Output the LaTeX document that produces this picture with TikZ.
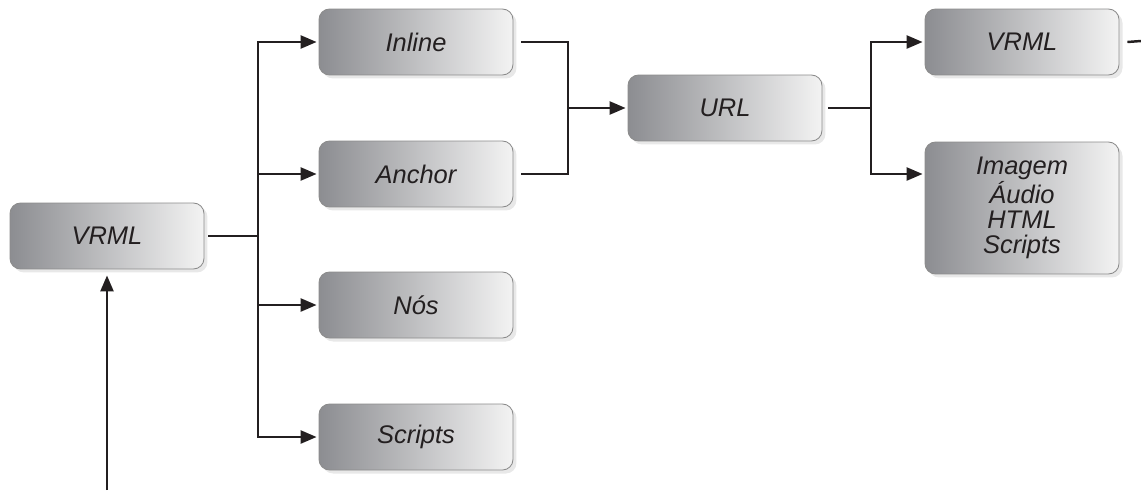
\documentclass[tikz,border=0pt]{standalone}
\usepackage{fontspec}
\setmainfont{Liberation Sans}
\usetikzlibrary{arrows.meta,shadows}
\definecolor{inkc}{RGB}{35,31,32}
\definecolor{shadeL}{RGB}{140,141,145}
\definecolor{shadeR}{RGB}{243,243,243}
\tikzset{
  box/.style={draw=black!45, line width=0.5pt, rounded corners=0.21cm,
    left color=shadeL, right color=shadeR,
    minimum width=3.88cm, minimum height=1.32cm, inner sep=0pt,
    font=\fontsize{14.5}{14.2}\selectfont\itshape, text=inkc, align=center,
    general shadow={fill=black!9, shadow xshift=0.07cm, shadow yshift=-0.07cm}},
  link/.style={draw=inkc, line width=1.4pt},
  arr/.style={link, -{Triangle[length=0.32cm,width=0.26cm]}}
}
\begin{document}
\begin{tikzpicture}[x=0.02cm, y=-0.02cm]
  \useasboundingbox (0,0) rectangle (1141,490);
  % boxes
  \node[box] (vrml)    at (107,236) {VRML};
  \node[box] (inline)  at (416,42)  {Inline};
  \node[box] (anchor)  at (416,174) {Anchor};
  \node[box] (nos)     at (416,305) {Nós};
  \node[box] (scripts) at (416,437) {Scripts};
  \node[box] (url)     at (725,108) {URL};
  \node[box] (vrmlb)   at (1022,42) {VRML};
  \node[box, minimum height=2.64cm] (media) at (1022,208)
        {Imagem\\Áudio\\HTML\\Scripts};
  % junction points of the branches
  \coordinate (j1) at (258,0);
  \coordinate (j2) at (568,0);
  \coordinate (j3) at (871,0);
  \coordinate (exit) at (1141,41);
  \coordinate (feed) at (107,490);
  % VRML branches
  \draw[link] ([xshift=0.08cm]vrml.east) -- (j1 |- vrml.east);
  \draw[arr] (j1 |- vrml.east) |- ([xshift=-0.04cm]inline.west);
  \draw[arr] (j1 |- anchor.west) -- ([xshift=-0.04cm]anchor.west);
  \draw[arr] (j1 |- nos.west) -- ([xshift=-0.04cm]nos.west);
  \draw[arr] (j1 |- vrml.east) |- ([xshift=-0.04cm]scripts.west);
  % Inline and Anchor merge into URL
  \draw[link] ([xshift=0.16cm]inline.east) -| (j2 |- anchor.east) -- ([xshift=0.16cm]anchor.east);
  \draw[arr] (j2 |- url.west) -- ([xshift=-0.04cm]url.west);
  % URL branches
  \draw[link] ([xshift=0.12cm]url.east) -- (j3 |- url.east);
  \draw[arr] (j3 |- url.east) |- ([xshift=-0.04cm]vrmlb.west);
  \draw[arr] (j3 |- url.east) |- ([xshift=-0.04cm]media.west |- anchor.west);
  % continuing line and incoming arrow
  \draw[link] ([xshift=0.16cm]vrmlb.east) -- (exit);
  \draw[arr] (feed) -- ([yshift=-0.12cm]vrml.south);
\end{tikzpicture}
\end{document}
